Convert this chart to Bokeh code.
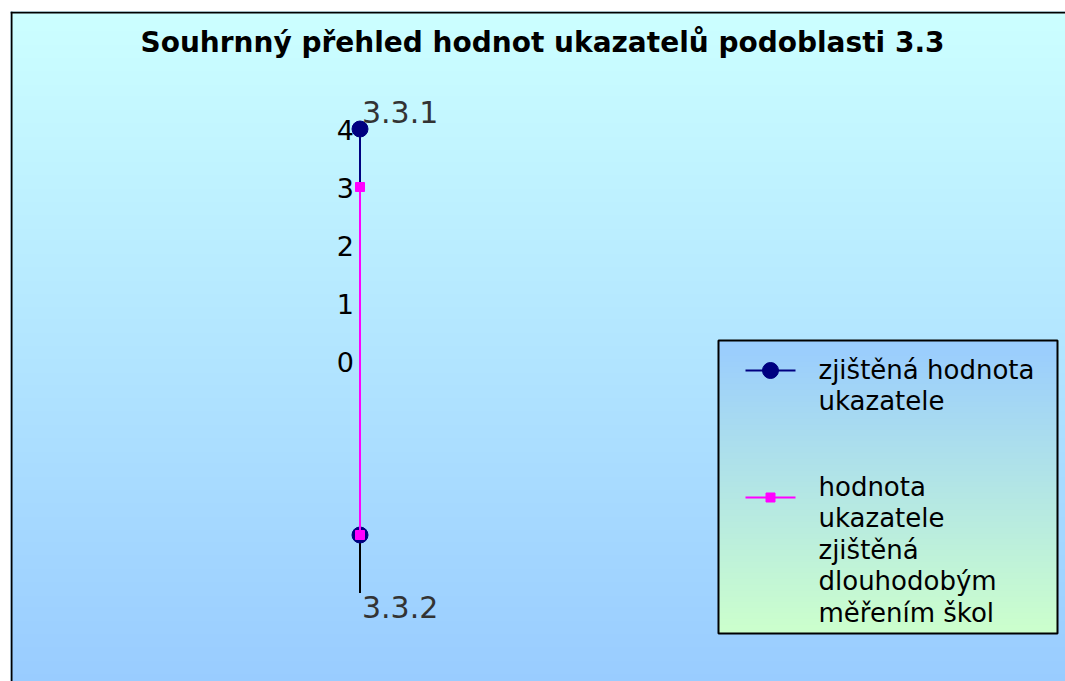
import numpy as np
from bokeh.plotting import figure
from bokeh.models import Range1d
from bokeh.core.properties import value
from bokeh.embed import file_html
from bokeh.resources import INLINE

# ---- data ----
title_text = "Souhrnný přehled hodnot ukazatelů podoblasti 3.3"
categories = ["3.3.1", "3.3.2"]
measured = [4, 3]          # zjištěná hodnota ukazatele
longterm = [3, 3]          # hodnota ukazatele zjištěná dlouhodobým měřením škol
radial_ticks = [0, 1, 2, 3, 4]
radial_min, radial_max = 0, 4
legend_labels = [
    ["zjištěná hodnota", "ukazatele"],
    ["hodnota", "ukazatele", "zjištěná", "dlouhodobým", "měřením škol"],
]

# ---- layout (page pixels -> data units) ----
U = 58.0                    # pixels per radial unit
CX, CY = 359.5, 360.5       # radar centre on page
FL, FT, FR, FB = 10, 11, 1065, 681   # frame edges on page

def dx(px):
    return (px - CX) / U

def dy(py):
    return (CY - py) / U

FONT = value("DejaVu Sans")

p = figure(width=1065, height=681, output_backend="svg", toolbar_location=None,
           x_range=Range1d(dx(FL), dx(FR)), y_range=Range1d(dy(FB), dy(FT)),
           x_axis_location=None, y_axis_location=None,
           min_border_left=FL, min_border_top=FT, min_border_right=0, min_border_bottom=0)
p.grid.visible = False
p.outline_line_color = None
p.border_fill_color = "white"
p.background_fill_color = "#b3e6ff"

def vgrad(top, bottom, n=400):
    t = np.linspace(0, 1, n)[:, None]
    top = np.array(top, float)
    bot = np.array(bottom, float)
    cols = bot * (1 - t) + top * t   # row 0 = bottom
    img = np.zeros((n, 2), dtype=np.uint32)
    view = img.view(dtype=np.uint8).reshape((n, 2, 4))
    view[:, :, 0] = cols[:, 0:1].round().astype(np.uint8)
    view[:, :, 1] = cols[:, 1:2].round().astype(np.uint8)
    view[:, :, 2] = cols[:, 2:3].round().astype(np.uint8)
    view[:, :, 3] = 255
    return img

# background gradient
p.image_rgba(image=[vgrad((204, 255, 255), (153, 204, 255))],
             x=dx(FL), y=dy(FB), dw=dx(FR) - dx(FL), dh=dy(FT) - dy(FB))

# frame border (top, left)
p.segment(x0=[dx(FL), dx(FL + 1)], y0=[dy(FT + 1), dy(FT)],
          x1=[dx(FR), dx(FL + 1)], y1=[dy(FT + 1), dy(FB)],
          line_color="black", line_width=2)

# ---- radar ----
n = len(categories)
angles = [np.pi / 2 - i * 2 * np.pi / n for i in range(n)]

def to_xy(vals):
    r = [(v - radial_min) for v in vals]
    xs = [ri * np.cos(a) for ri, a in zip(r, angles)]
    ys = [ri * np.sin(a) for ri, a in zip(r, angles)]
    return xs, ys

# spokes
for a in angles:
    R = radial_max - radial_min
    p.line([0, R * np.cos(a)], [0, R * np.sin(a)], line_color="black", line_width=2)

mx, my = to_xy(measured)
lx, ly = to_xy(longterm)
p.line(mx + mx[:1], my + my[:1], line_color="#000080", line_width=2)
p.scatter(mx, my, marker="circle", size=16, fill_color="#000080", line_color="#000080")
p.line(lx + lx[:1], ly + ly[:1], line_color="#ff00ff", line_width=2)
p.scatter(lx, ly, marker="square", size=9, fill_color="#ff00ff", line_color="#ff00ff")

# radial tick labels on first spoke
a0 = angles[0]
tx = [(t - radial_min) * np.cos(a0) for t in radial_ticks]
ty = [(t - radial_min) * np.sin(a0) for t in radial_ticks]
p.text(tx, ty, text=[str(t) for t in radial_ticks], text_font=FONT,
       text_font_size="27px", text_color="black", text_align="right",
       text_baseline="middle", x_offset=-6, y_offset=1)

# category labels
cx_ = [(radial_max - radial_min) * np.cos(a) for a in angles]
cy_ = [(radial_max - radial_min) * np.sin(a) for a in angles]
p.text(cx_[:1], cy_[:1], text=categories[:1], text_font=FONT, text_font_size="30px",
       text_color="#333333", text_align="left", text_baseline="bottom",
       x_offset=2, y_offset=-6)
p.text(cx_[1:], cy_[1:], text=categories[1:], text_font=FONT, text_font_size="30px",
       text_color="#333333", text_align="left", text_baseline="top",
       x_offset=2, y_offset=3)

# title
p.text([dx(542)], [dy(42)], text=[title_text], text_font=value("DejaVu Sans"),
       text_font_style="bold", text_font_size="28px", text_color="black",
       text_align="center", text_baseline="middle")

# ---- legend ----
LL, LT, LR, LB = 718, 340, 1057, 633
p.image_rgba(image=[vgrad((153, 204, 255), (204, 255, 204))],
             x=dx(LL), y=dy(LB), dw=dx(LR) - dx(LL), dh=dy(LT) - dy(LB))
p.quad(left=[dx(LL)], right=[dx(LR)], top=[dy(LT)], bottom=[dy(LB)],
       fill_color=None, line_color="black", line_width=2)

item_y = [370, 497]
colors = ["#000080", "#ff00ff"]
markers = ["circle", "square"]
msizes = [16, 9]
for k in range(2):
    p.line([dx(745), dx(795)], [dy(item_y[k])] * 2, line_color=colors[k], line_width=2)
    p.scatter([dx(770)], [dy(item_y[k])], marker=markers[k], size=msizes[k],
              fill_color=colors[k], line_color=colors[k])

line_starts = [369, 486]
for k, lines in enumerate(legend_labels):
    ys = [dy(line_starts[k] + 31.5 * i) for i in range(len(lines))]
    p.text([dx(818)] * len(lines), ys, text=lines, text_font=FONT,
           text_font_size="26px", text_color="black", text_align="left",
           text_baseline="middle")

open("out.html", "w").write(file_html(p, INLINE))
